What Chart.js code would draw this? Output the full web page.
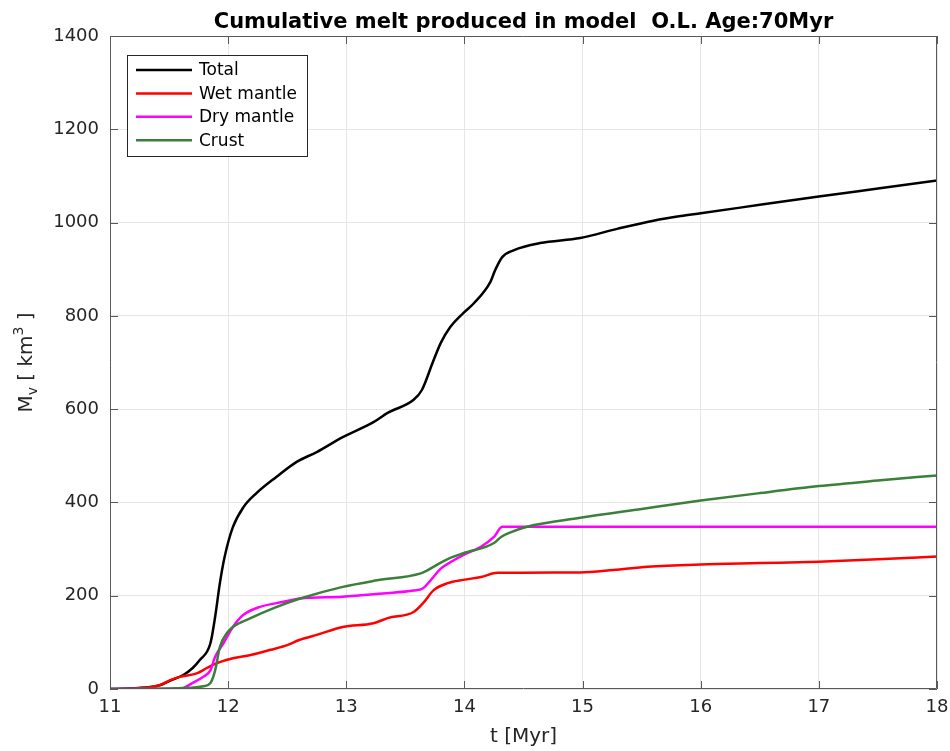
<!DOCTYPE html>
<html>
<head>
<meta charset="utf-8">
<title>Cumulative melt</title>
<script src="https://cdn.jsdelivr.net/npm/chart.js@4.4.1/dist/chart.umd.min.js"></script>
<style>
  html, body { margin: 0; padding: 0; background: #fff; }
  #wrap { width: 950px; height: 751px; position: relative; }
</style>
</head>
<body>
<div id="wrap"><canvas id="meltChart"></canvas></div>
<script>
// Время, млн лет, и накопленный объём расплава, км^3
const tTotal = [11, 11.3, 11.42, 11.51, 11.62, 11.7, 11.76, 11.85, 11.89, 11.93, 11.97, 12.04, 12.13, 12.24, 12.41, 12.58, 12.75, 12.97, 13.23, 13.35, 13.57, 13.64, 13.73, 13.8, 13.88, 13.99, 14.08, 14.22, 14.26, 14.32, 14.42, 14.64, 14.98, 15.3, 15.6, 15.83, 16, 16.5, 17, 17.5, 18];
const total  = [0, 3, 8, 18, 30, 45, 62, 98, 155, 227, 283, 347, 390, 420, 455, 487, 508, 540, 572, 592, 620, 641, 699, 742, 776, 806, 827, 873, 898, 926, 941, 956, 967, 987, 1004, 1014, 1020, 1038, 1056, 1073, 1090];

const tWet = [11, 11.2, 11.34, 11.42, 11.51, 11.59, 11.74, 11.82, 11.91, 12.04, 12.19, 12.36, 12.5, 12.6, 12.75, 12.97, 13.23, 13.35, 13.57, 13.65, 13.74, 13.86, 13.99, 14.14, 14.28, 14.98, 15.26, 15.55, 16, 16.5, 17, 17.5, 18];
const wetMantle = [0, 1, 4, 8, 19, 26, 34, 45, 56, 66, 73, 84, 94, 105, 116, 133, 141, 152, 165, 184, 212, 227, 234, 240, 249, 250, 255, 262, 267, 270, 273, 278, 284];

const tDry = [11, 11.55, 11.62, 11.7, 11.79, 11.85, 11.89, 11.96, 12.04, 12.13, 12.27, 12.47, 12.61, 12.97, 13.31, 13.57, 13.65, 13.71, 13.8, 13.91, 13.99, 14.14, 14.25, 14.32, 18];
const dryMantle = [0, 0, 2, 13, 26, 40, 69, 98, 133, 159, 176, 187, 194, 198, 205, 211, 216, 232, 258, 276, 287, 305, 326, 348, 348];

const tCrust = [11, 11.62, 11.79, 11.85, 11.89, 11.93, 11.99, 12.04, 12.19, 12.38, 12.61, 12.97, 13.26, 13.63, 13.69, 13.8, 13.88, 13.99, 14.25, 14.31, 14.39, 14.53, 14.98, 15.5, 16, 16.5, 17, 17.5, 18];
const crust = [0, 2, 6, 13, 40, 90, 120, 133, 152, 173, 194, 219, 233, 248, 255, 271, 281, 291, 313, 326, 336, 348, 367, 386, 404, 420, 435, 447, 458];

const xTicks = [11, 12, 13, 14, 15, 16, 17, 18];
const yTicks = [0, 200, 400, 600, 800, 1000, 1200, 1400];

const seriesNames = ['Total', 'Wet mantle', 'Dry mantle', 'Crust'];
const seriesColors = ['#000000', '#ff0000', '#ff00ff', '#3a7f3a'];

const FONT = '"DejaVu Sans", sans-serif';
const AXIS_COLOR = '#595959';
const TEXT_COLOR = '#262626';

function pts(xs, ys) {
  return xs.map((x, i) => ({ x: x, y: ys[i] }));
}

const allData = [pts(tTotal, total), pts(tWet, wetMantle), pts(tDry, dryMantle), pts(tCrust, crust)];

// тики внутрь по всем сторонам, рамка, заголовки и легенда
const matlabLook = {
  id: 'matlabLook',
  afterDraw(chart) {
    const ctx = chart.ctx;
    const a = chart.chartArea;
    const xs = chart.scales.x, ys = chart.scales.y;
    const tl = 8;
    ctx.save();
    ctx.strokeStyle = AXIS_COLOR;
    ctx.lineWidth = 1;
    ctx.beginPath();
    ctx.rect(a.left + 0.5, a.top + 0.5, a.right - a.left - 1, a.bottom - a.top - 1);
    xTicks.forEach(v => {
      const px = Math.round(xs.getPixelForValue(v)) + 0.5;
      ctx.moveTo(px, a.bottom); ctx.lineTo(px, a.bottom - tl);
      ctx.moveTo(px, a.top); ctx.lineTo(px, a.top + tl);
    });
    yTicks.forEach(v => {
      const py = Math.round(ys.getPixelForValue(v)) + 0.5;
      ctx.moveTo(a.left, py); ctx.lineTo(a.left + tl, py);
      ctx.moveTo(a.right, py); ctx.lineTo(a.right - tl, py);
    });
    ctx.stroke();

    // заголовок
    const cx = (a.left + a.right) / 2;
    ctx.fillStyle = '#000';
    ctx.font = 'bold 21px ' + FONT;
    ctx.textAlign = 'center';
    ctx.textBaseline = 'alphabetic';
    ctx.fillText('Cumulative melt produced in model  O.L. Age:70Myr', cx, 28);

    // подпись оси X
    ctx.fillStyle = TEXT_COLOR;
    ctx.font = '20px ' + FONT;
    ctx.textBaseline = 'middle';
    ctx.fillText('t [Myr]', cx, 737);

    // подпись оси Y: M_v [ km^3 ]
    const parts = [
      { t: 'M', f: '20px ', dy: 0 },
      { t: 'v', f: '14px ', dy: 5 },
      { t: ' [ km', f: '20px ', dy: 0 },
      { t: '3', f: '14px ', dy: -9 },
      { t: ' ]', f: '20px ', dy: 0 }
    ];
    let w = 0;
    parts.forEach(p => { ctx.font = p.f + FONT; p.w = ctx.measureText(p.t).width; w += p.w; });
    ctx.translate(32, (a.top + a.bottom) / 2);
    ctx.rotate(-Math.PI / 2);
    ctx.textAlign = 'left';
    ctx.textBaseline = 'alphabetic';
    let x0 = -w / 2;
    parts.forEach(p => {
      ctx.font = p.f + FONT;
      ctx.fillText(p.t, x0, p.dy);
      x0 += p.w;
    });
    ctx.setTransform(1, 0, 0, 1, 0, 0);

    // легенда
    const lx = 127, ly = 55, lw = 180, lh = 101;
    ctx.fillStyle = '#fff';
    ctx.fillRect(lx, ly, lw, lh);
    ctx.strokeStyle = '#262626';
    ctx.lineWidth = 1;
    ctx.strokeRect(lx + 0.5, ly + 0.5, lw, lh);
    ctx.font = '17px ' + FONT;
    ctx.textAlign = 'left';
    ctx.textBaseline = 'middle';
    seriesNames.forEach((name, i) => {
      const y = 70 + i * 23.4;
      ctx.strokeStyle = seriesColors[i];
      ctx.lineWidth = 2.5;
      ctx.beginPath();
      ctx.moveTo(136, y); ctx.lineTo(192, y);
      ctx.stroke();
      ctx.fillStyle = '#000';
      ctx.fillText(name, 199, y + 1);
    });
    ctx.restore();
  }
};

new Chart(document.getElementById('meltChart').getContext('2d'), {
  type: 'line',
  data: {
    datasets: seriesNames.map((name, i) => ({
      label: name,
      data: allData[i],
      borderColor: seriesColors[i],
      backgroundColor: seriesColors[i],
      borderWidth: 2.5,
      pointRadius: 0,
      cubicInterpolationMode: 'monotone',
      fill: false
    })).reverse()
  },
  options: {
    responsive: true,
    maintainAspectRatio: false,
    animation: false,
    layout: { padding: { top: 36, right: 13, left: 0, bottom: 0 } },
    plugins: {
      legend: { display: false },
      title: { display: false },
      tooltip: { enabled: false }
    },
    scales: {
      x: {
        type: 'linear',
        min: 11,
        max: 18,
        afterBuildTicks: s => { s.ticks = xTicks.map(v => ({ value: v })); },
        afterFit: s => { s.height = 62; s.paddingLeft = 0; s.paddingRight = 0; },
        ticks: { color: TEXT_COLOR, font: { family: FONT, size: 18 }, padding: 8, maxRotation: 0, callback: v => String(v) },
        grid: { color: '#e6e6e6', drawTicks: false },
        border: { display: false }
      },
      y: {
        min: 0,
        max: 1400,
        afterBuildTicks: s => { s.ticks = yTicks.map(v => ({ value: v })); },
        afterFit: s => { s.width = 110; s.paddingTop = 0; s.paddingBottom = 0; },
        ticks: { color: TEXT_COLOR, font: { family: FONT, size: 18 }, padding: 11, callback: v => String(v) },
        grid: { color: '#e6e6e6', drawTicks: false },
        border: { display: false }
      }
    }
  },
  plugins: [matlabLook]
});
</script>
</body>
</html>
